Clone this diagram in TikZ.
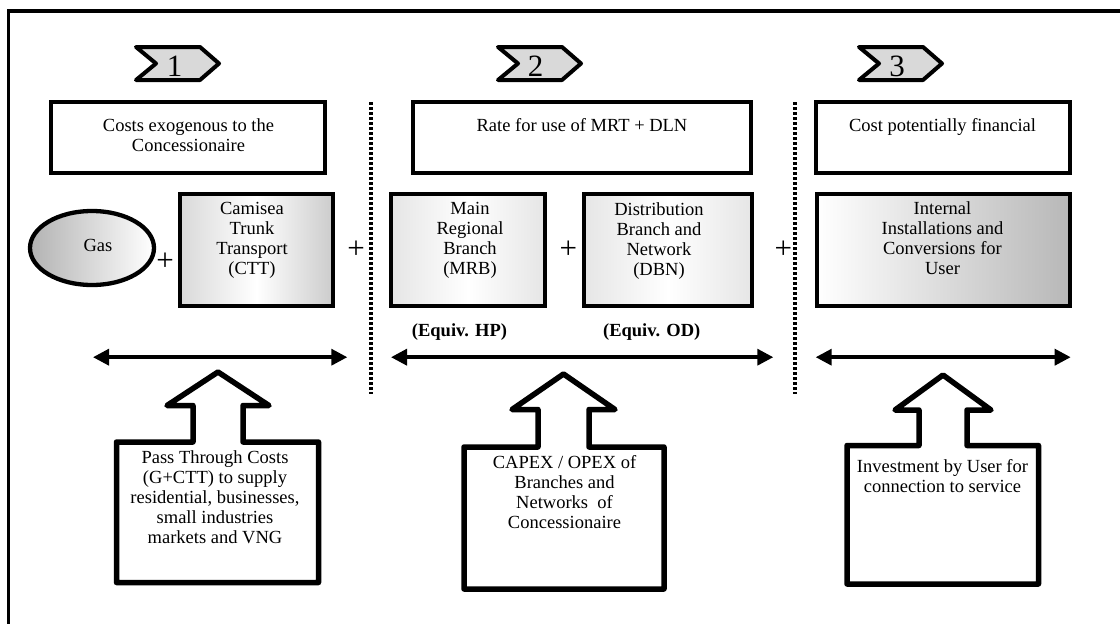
\documentclass[tikz,border=0pt]{standalone}
\usepackage{fontspec}
\setmainfont{Liberation Serif}
\usetikzlibrary{calc,arrows.meta,shapes.geometric}

\begin{document}
\begin{tikzpicture}[x=1pt, y=-1pt,
  txt/.style={font=\fontsize{18.5}{20}\selectfont, align=center, inner sep=0pt},
  boldtxt/.style={txt, font=\fontsize{18.5}{20}\selectfont\bfseries},
  panel/.style={draw, line width=4.3pt, inner sep=0pt},
  chev/.style={fill=black!15, line width=4pt, line join=round},
  big/.style={font=\fontsize{31}{31}\selectfont, inner sep=0pt},
  divider/.style={line width=4pt, dash pattern=on 3.2pt off 1.8pt},
  spread/.style={line width=3.5pt, {Triangle[length=16pt,width=16pt]}-{Triangle[length=16pt,width=16pt]}},
  blockarrow/.style={line width=5.5pt, line join=round}]

\clip (0,0) rectangle (1120,624);
\draw[line width=3.75pt] (8.5,11.3) rectangle (1140,650);

% step markers
\coordinate (S1) at (136,47);
\coordinate (S2) at (498,47);
\coordinate (S3) at (859,47);

\filldraw[chev] (S1) -- ++(64,0) -- ++(19,16.5) -- ++(-19,16.5) -- ++(-64,0) -- ++(20,-16.5) -- cycle;
\filldraw[chev] (S2) -- ++(64,0) -- ++(19,16.5) -- ++(-19,16.5) -- ++(-64,0) -- ++(20,-16.5) -- cycle;
\filldraw[chev] (S3) -- ++(64,0) -- ++(19,16.5) -- ++(-19,16.5) -- ++(-64,0) -- ++(20,-16.5) -- cycle;

\node[big] (N1) at (174.5,66.5) {1};
\node[big] (N2) at (535.5,66.5) {2};
\node[big] (N3) at (897,66.5) {3};

% headings
\node[panel, minimum width=274pt, minimum height=71pt] (T1) at (188,137.5) {};
\node[panel, minimum width=338pt, minimum height=71pt] (T2) at (582,137.5) {};
\node[panel, minimum width=254pt, minimum height=71pt] (T3) at (943,137.5) {};

\node[txt, anchor=north] (T1t) at (188.5,118.4) {Costs exogenous to the\\Concessionaire};
\node[txt, anchor=north] (T2t) at (582,118.4) {Rate for use of MRT + DLN};
\node[txt, anchor=north] (T3t) at (942.5,118.4) {Cost potentially financial};

% cost items
\node[panel, ellipse, minimum width=124pt, minimum height=74pt,
      left color=black!30, right color=white] (Gas) at (92,248) {};
\node[panel, minimum width=153pt, minimum height=112pt,
      left color=black!15, right color=black!20, middle color=white] (CTT) at (256.5,250) {};
\node[panel, minimum width=154pt, minimum height=112pt,
      left color=black!10, right color=black!10, middle color=white] (MRB) at (468,250) {};
\node[panel, minimum width=168pt, minimum height=112pt,
      left color=black!10, right color=black!10, middle color=white] (DBN) at (668,250) {};
\node[panel, minimum width=253pt, minimum height=112pt,
      left color=white, right color=black!28] (IIC) at (943.5,250) {};

\node[txt] (Gast) at (98,245.8) {Gas};
\node[txt, anchor=north] (CTTt) at (252,202.4) {Camisea\\Trunk\\Transport\\(CTT)};
\node[txt, anchor=north] (MRBt) at (470,202.4) {Main\\Regional\\Branch\\(MRB)};
\node[txt, anchor=north] (DBNt) at (659,202.4) {Distribution\\Branch and\\Network\\(DBN)};
\node[txt, anchor=north] (IICt) at (942.5,201.4) {Internal\\Installations and\\Conversions for\\User};

\node[big] (P1) at (165,261.5) {+};
\node[big] (P2) at (356,249.3) {+};
\node[big] (P3) at (568.3,249.3) {+};
\node[big] (P4) at (783.3,249.3) {+};

\node[boldtxt] (HP) at (459.5,332) {(Equiv. HP)};
\node[boldtxt] (OD) at (651.7,332) {(Equiv. OD)};

% separators
\coordinate (D1a) at (370.5,102);
\coordinate (D1b) at (370.5,394);
\coordinate (D2a) at (795,102);
\coordinate (D2b) at (795,394);

\draw[divider] (D1a) -- (D1b);
\draw[divider] (D2a) -- (D2b);

% ranges
\coordinate (L1) at (93,357.2);
\coordinate (R1) at (347.3,357.2);
\coordinate (L2) at (391,357.2);
\coordinate (R2) at (773.3,357.2);
\coordinate (L3) at (815.7,357.2);
\coordinate (R3) at (1070.7,357.2);

\draw[spread] (L1) -- (R1);
\draw[spread] (L2) -- (R2);
\draw[spread] (L3) -- (R3);

% up arrows
\draw[blockarrow] (218,372) -- (269,405.5) -- (243,405.5) -- (243,442) -- (318.5,442)
  -- (318.5,582.5) -- (116.5,582.5) -- (116.5,442) -- (193,442) -- (193,405.5) -- (167,405.5) -- cycle;
\draw[blockarrow] (563.5,374) -- (615,409.5) -- (589,409.5) -- (589,447) -- (664,447)
  -- (664,589) -- (464,589) -- (464,447) -- (538,447) -- (538,409.5) -- (512,409.5) -- cycle;
\draw[blockarrow] (943,375) -- (991,410) -- (967,410) -- (967,445.5) -- (1038.5,445.5)
  -- (1038.5,584) -- (847,584) -- (847,445.5) -- (919,445.5) -- (919,410) -- (895,410) -- cycle;

\node[txt, anchor=north] (Pass) at (215,450.4) {Pass Through Costs\\(G+CTT) to supply\\residential, businesses,\\small industries\\markets and VNG};
\node[txt, anchor=north] (Capex) at (564.5,455.4) {CAPEX / OPEX of\\Branches and\\Networks~ of\\Concessionaire};
\node[txt, anchor=north] (Invest) at (942.5,459.4) {Investment by User for\\connection to service};

\end{tikzpicture}
\end{document}
